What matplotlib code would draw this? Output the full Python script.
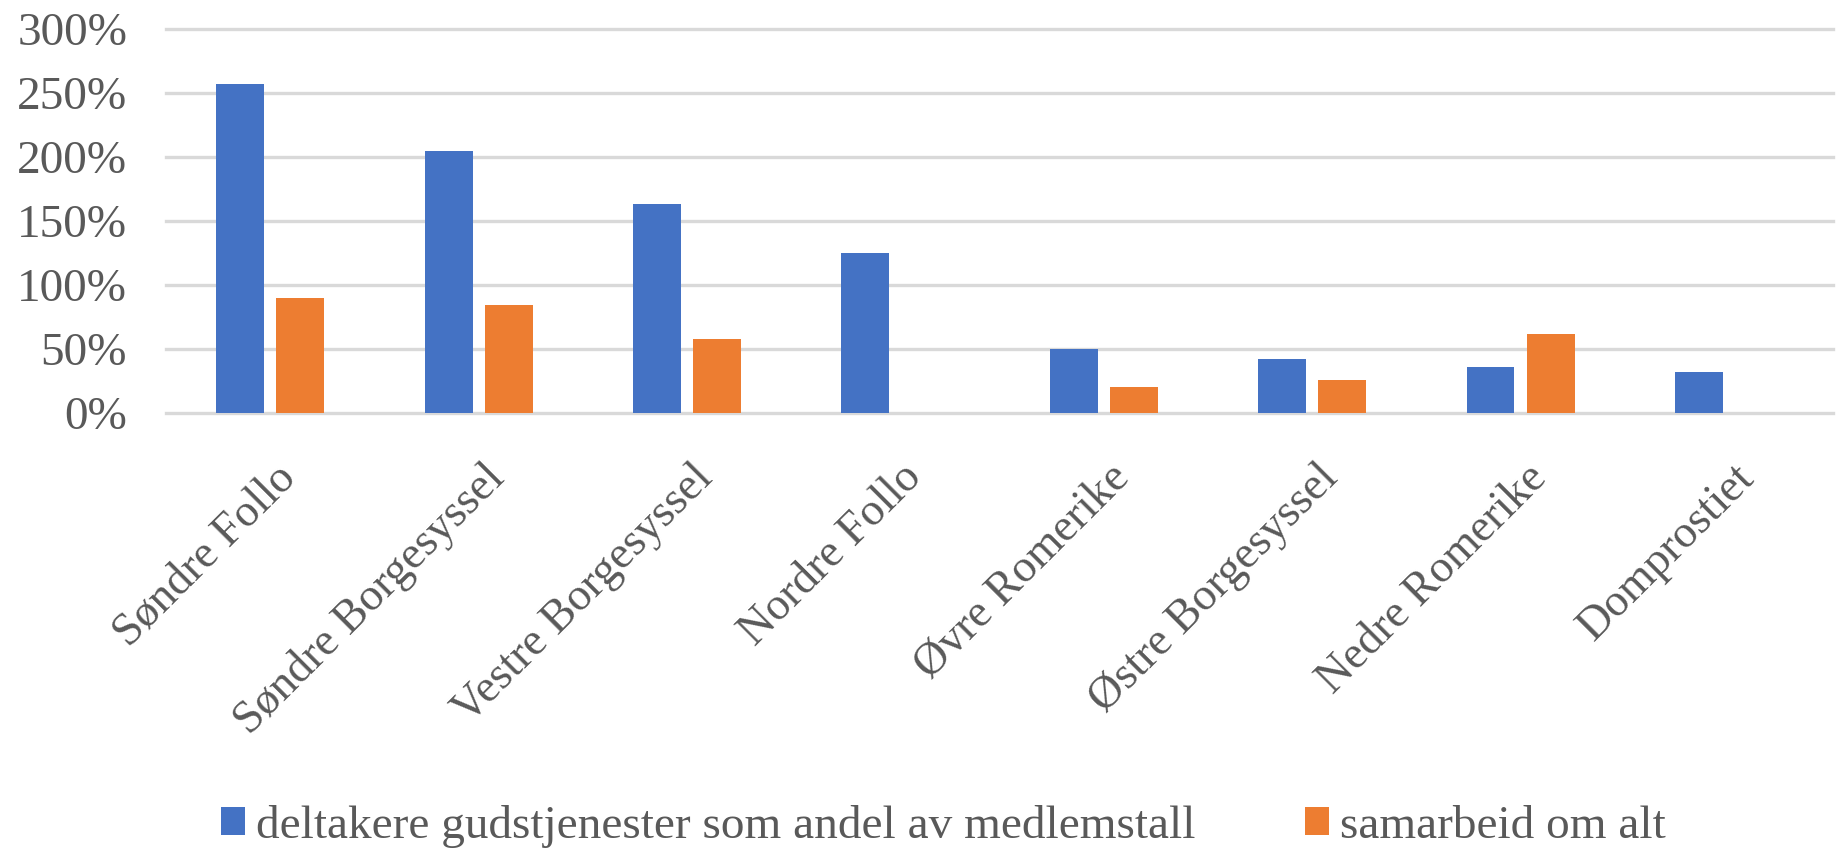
import matplotlib
matplotlib.use("Agg")
import matplotlib.pyplot as plt
import matplotlib.transforms as mtransforms
import numpy as np
from matplotlib.ticker import PercentFormatter

plt.rcParams['font.family'] = ['Liberation Serif', 'DejaVu Serif']

# data
prostier = ['Søndre Follo', 'Søndre Borgesyssel', 'Vestre Borgesyssel', 'Nordre Follo',
            'Øvre Romerike', 'Østre Borgesyssel', 'Nedre Romerike', 'Domprostiet']
deltakere = [2.57, 2.05, 1.63, 1.25, 0.50, 0.42, 0.36, 0.32]
samarbeid = [0.90, 0.84, 0.58, 0.0, 0.20, 0.26, 0.62, 0.0]

navn_blaa = 'deltakere gudstjenester som andel av medlemstall'
navn_oransje = 'samarbeid om alt'

blaa = '#4472C4'
oransje = '#ED7D31'
tekstfarge = '#595959'

fig = plt.figure(figsize=(18.39, 8.49), dpi=100)
ax = fig.add_axes([0.0903, 0.5135, 0.9065, 0.4525])

x = np.arange(len(prostier))
w = 0.23
ax.bar(x - 0.144, deltakere, w, color=blaa, label=navn_blaa)
ax.bar(x + 0.144, samarbeid, w, color=oransje, label=navn_oransje)

ax.set_xlim(-0.5, len(prostier) - 0.5)
ax.set_ylim(0, 3.0)
ax.set_yticks(np.arange(0, 3.01, 0.5))
ax.yaxis.set_major_formatter(PercentFormatter(1.0, decimals=0))

ax.set_axisbelow(True)
ax.grid(axis='y', color='#D9D9D9', linewidth=2.4)
for gl in ax.get_ygridlines():
    gl.set_clip_on(False)
for s in ax.spines.values():
    s.set_visible(False)

ax.tick_params(axis='y', length=0, pad=28, labelsize=34, labelcolor=tekstfarge)
ax.tick_params(axis='x', length=0, pad=42, labelsize=33, labelcolor=tekstfarge)
ax.set_xticks(x)
ax.set_xticklabels(prostier, rotation=45, ha='right', va='center', rotation_mode='anchor')
# flytt etikettene litt mot hoyre
forskyv = mtransforms.ScaledTranslation(14 / 72, 0, fig.dpi_scale_trans)
for lab in ax.get_xticklabels():
    lab.set_transform(lab.get_transform() + forskyv)

leg = fig.legend(loc='center', bbox_to_anchor=(0.513, 0.027), ncol=2, frameon=False,
                 fontsize=34, handlelength=0.51, handleheight=0.55, handletextpad=0.25,
                 columnspacing=2.3)
for t in leg.get_texts():
    t.set_color(tekstfarge)

fig.savefig('out.png', dpi=100)
